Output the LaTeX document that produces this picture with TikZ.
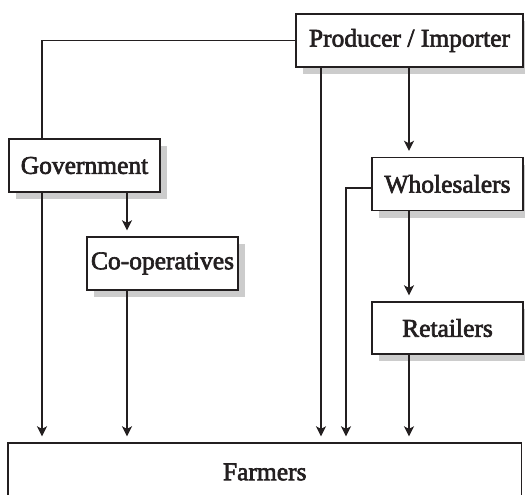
\documentclass[tikz,border=0pt]{standalone}
\usepackage{fontspec}
\setmainfont{Liberation Serif}[FakeBold=2.5]
\usetikzlibrary{arrows.meta,shadows}
\definecolor{ink}{HTML}{231F20}
\definecolor{shade}{HTML}{CCCCCC}
\begin{document}
\begin{tikzpicture}[x=1pt,y=-1pt,
  box/.style={draw=ink,line width=1.4pt,fill=white,text=ink,inner sep=0pt,
    font=\fontsize{25.5}{30}\selectfont,
    drop shadow={shadow xshift=7pt,shadow yshift=-7pt,fill=shade,opacity=1,draw=none}},
  flat/.style={draw=ink,line width=1.4pt,fill=white,text=ink,inner sep=0pt,
    font=\fontsize{25.5}{30}\selectfont},
  link/.style={draw=ink,line width=1.4pt},
  arr/.style={link,-{Stealth[length=10pt,width=10pt,inset=2.5pt]},shorten >=6pt}]
\useasboundingbox (0,0) rectangle (525,495);
\fill[white] (0,0) rectangle (525,495);
\node[box,minimum width=227pt,minimum height=53pt] (prod) at (409.5,40.5) {Producer / Importer};
\node[box,minimum width=151pt,minimum height=53pt] (gov) at (84.5,165.5) {Government};
\node[box,minimum width=151pt,minimum height=53pt] (coop) at (162.5,263.5) {Co-operatives};
\node[box,minimum width=151pt,minimum height=53pt] (whole) at (447.5,184) {Wholesalers};
\node[box,minimum width=151pt,minimum height=52pt] (ret) at (447.5,328) {Retailers};
\node[flat,minimum width=513.5pt,minimum height=58pt] (farm) at (264.75,472) {Farmers};
\coordinate (xa) at (42,0);
\coordinate (xb) at (127,0);
\coordinate (xc) at (321,0);
\coordinate (xd) at (346,0);
\coordinate (xe) at (409,0);
\coordinate (yw) at (0,188);
% Producer to Government
\draw[link] (prod.west) -| (gov.north -| xa);
% Government to Farmers
\draw[arr] (gov.south -| xa) -- (farm.north -| xa);
% Government to Co-operatives
\draw[arr] (gov.south -| xb) -- (coop.north -| xb);
% Co-operatives to Farmers
\draw[arr] (coop.south -| xb) -- (farm.north -| xb);
% Producer to Farmers
\draw[arr] (prod.south -| xc) -- (farm.north -| xc);
% Producer to Wholesalers
\draw[arr] (prod.south -| xe) -- (whole.north -| xe);
% Wholesalers to Farmers
\draw[arr] (whole.west |- yw) -| (farm.north -| xd);
% Wholesalers to Retailers
\draw[arr] (whole.south -| xe) -- (ret.north -| xe);
% Retailers to Farmers
\draw[arr] (ret.south -| xe) -- (farm.north -| xe);
\end{tikzpicture}
\end{document}
